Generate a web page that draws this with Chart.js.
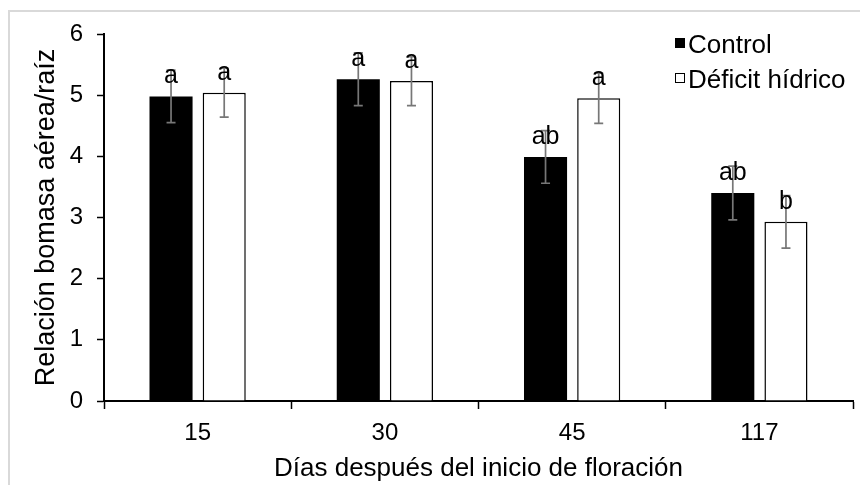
<!DOCTYPE html>
<html>
<head>
<meta charset="utf-8">
<script src="https://cdn.jsdelivr.net/npm/chart.js@4.4.1/dist/chart.umd.min.js"></script>
<style>
  html, body { margin: 0; padding: 0; background: #fff; }
  #wrap { position: relative; width: 860px; height: 485px; overflow: hidden; }
  #frame { position: absolute; left: 8px; top: 10px; width: 900px; height: 520px;
           border-left: 2px solid #d9d9d9; border-top: 2px solid #d9d9d9; }
  canvas { position: absolute; left: 0; top: 0; }
</style>
</head>
<body>
<div id="wrap">
  <div id="frame"></div>
  <canvas id="chart" width="860" height="485"></canvas>
</div>
<script>
// Days after the start of flowering
const categories = ['15', '30', '45', '117'];

// Shoot/root biomass ratio, means and error half-widths
const controlValues = [4.98, 5.26, 3.99, 3.40];
const controlErrors = [0.43, 0.43, 0.43, 0.44];
const deficitValues = [5.04, 5.23, 4.95, 2.93];
const deficitErrors = [0.40, 0.40, 0.41, 0.43];

// Significance letters shown above each bar
const controlLetters = ['a', 'a', 'ab', 'ab'];
const deficitLetters = ['a', 'a', 'a', 'b'];

// Y axis range
const yMin = 0;
const yMax = 6;
const yStep = 1;

const seriesNames = ['Control', 'Déficit hídrico'];

const FONT = '"Liberation Sans", Arial, Helvetica, sans-serif';
const errors = [controlErrors, deficitErrors];
const letters = [controlLetters, deficitLetters];

const errorBarsAndLetters = {
  id: 'errorBarsAndLetters',
  afterDatasetsDraw(chart) {
    const ctx = chart.ctx;
    const y = chart.scales.y;
    ctx.save();
    chart.data.datasets.forEach((ds, di) => {
      const meta = chart.getDatasetMeta(di);
      meta.data.forEach((bar, i) => {
        const v = ds.data[i];
        const e = errors[di][i];
        const yHi = y.getPixelForValue(v + e);
        const yLo = y.getPixelForValue(v - e);
        ctx.strokeStyle = '#777777';
        ctx.lineWidth = 1.7;
        ctx.beginPath();
        ctx.moveTo(bar.x, yHi); ctx.lineTo(bar.x, yLo);
        ctx.moveTo(bar.x - 4.5, yHi); ctx.lineTo(bar.x + 4.5, yHi);
        ctx.moveTo(bar.x - 4.5, yLo); ctx.lineTo(bar.x + 4.5, yLo);
        ctx.stroke();
      });
    });
    ctx.fillStyle = '#000';
    ctx.font = '25px ' + FONT;
    ctx.textAlign = 'center';
    ctx.textBaseline = 'alphabetic';
    chart.data.datasets.forEach((ds, di) => {
      const meta = chart.getDatasetMeta(di);
      meta.data.forEach((bar, i) => {
        ctx.fillText(letters[di][i], bar.x, bar.y - 13);
      });
    });
    ctx.restore();
  }
};

const sideLegend = {
  id: 'sideLegend',
  afterDraw(chart) {
    const ctx = chart.ctx;
    ctx.save();
    ctx.font = '26px ' + FONT;
    ctx.textAlign = 'left';
    ctx.textBaseline = 'alphabetic';
    const rows = [38, 73];
    chart.data.datasets.forEach((ds, di) => {
      const top = rows[di];
      ctx.fillStyle = ds.backgroundColor;
      ctx.fillRect(675, top, 10, 10);
      ctx.strokeStyle = '#000';
      ctx.lineWidth = 1;
      ctx.strokeRect(675.5, top + 0.5, 9, 9);
      ctx.fillStyle = '#000';
      ctx.fillText(ds.label, 688, top + 15);
    });
    ctx.restore();
  }
};

new Chart(document.getElementById('chart'), {
  type: 'bar',
  data: {
    labels: categories,
    datasets: [
      {
        label: seriesNames[0],
        data: controlValues,
        backgroundColor: '#000000',
        borderColor: '#000000',
        borderWidth: 0,
        categoryPercentage: 0.568,
        barPercentage: 0.81
      },
      {
        label: seriesNames[1],
        data: deficitValues,
        backgroundColor: '#ffffff',
        borderColor: '#000000',
        borderWidth: 1.5,
        categoryPercentage: 0.568,
        barPercentage: 0.81
      }
    ]
  },
  options: {
    responsive: false,
    animation: false,
    devicePixelRatio: 1,
    layout: { padding: { top: 34, right: 7, left: 0, bottom: 0 } },
    plugins: {
      legend: { display: false },
      tooltip: { enabled: false }
    },
    scales: {
      x: {
        grid: {
          display: true, drawOnChartArea: false, drawTicks: true,
          tickLength: 8, tickColor: '#000', tickWidth: 1.5, offset: true
        },
        border: { display: true, color: '#000', width: 2 },
        ticks: { color: '#000', font: { family: FONT, size: 24 }, padding: 10 },
        title: {
          display: true,
          text: 'Días después del inicio de floración',
          color: '#000',
          font: { family: FONT, size: 26 },
          padding: { top: 0, bottom: 1 }
        },
        afterFit(scale) { scale.height = 84; }
      },
      y: {
        min: yMin,
        max: yMax,
        grid: {
          display: true, drawOnChartArea: false, drawTicks: true,
          tickLength: 7, tickColor: '#000', tickWidth: 1.5
        },
        border: { display: true, color: '#000', width: 2 },
        ticks: {
          stepSize: yStep,
          color: '#000',
          font: { family: FONT, size: 24 },
          padding: 14
        },
        title: {
          display: true,
          text: 'Relación bomasa aérea/raíz',
          color: '#000',
          font: { family: FONT, size: 27 },
          padding: { top: 30, bottom: 0 }
        },
        afterFit(scale) { scale.width = 104; }
      }
    }
  },
  plugins: [errorBarsAndLetters, sideLegend]
});
</script>
</body>
</html>
